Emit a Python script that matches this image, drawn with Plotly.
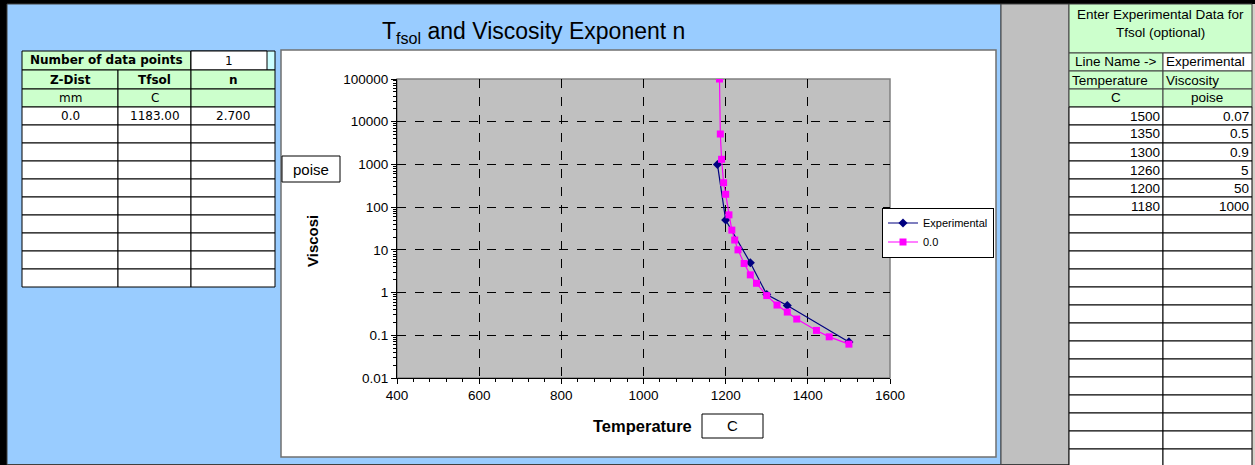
import plotly.graph_objects as go

W, H = 1255, 465

# experimental data (right hand table)
exp_temp = [1500, 1350, 1300, 1260, 1200, 1180]
exp_visc = [0.07, 0.5, 0.9, 5, 50, 1000]
exp_name = "Experimental"

# computed curve for Z-Dist 0.0
calc_temp = [1185, 1187, 1190, 1195, 1200, 1208, 1215, 1222, 1230, 1245,
             1260, 1275, 1300, 1325, 1350, 1373, 1421, 1452, 1500]
calc_visc = [100000, 5150, 1320, 373, 200, 66, 29, 17, 10, 4.8,
             2.6, 1.65, 0.85, 0.51, 0.35, 0.24, 0.13, 0.092, 0.062]
calc_name = "0.0"

# left table
n_points = "1"
left_head = ["Z-Dist", "Tfsol", "n"]
left_units = ["mm", "C", " "]
left_rows = [["0.0", "1183.00", "2.700"]]

# y ticks
y_tickvals = [0.01, 0.1, 1, 10, 100, 1000, 10000, 100000]
y_ticktext = ["0.01", "0.1", "1", "10", "100", "1000", "10000", "100000"]

GREEN = "#CCFFCC"
BLUE = "#99CCFF"
GREY = "#C0C0C0"
ARIAL = "Liberation Sans"
VERD = "DejaVu Sans"


def fx(x):
    return x / W


def fy(y):
    return 1 - y / H


shapes = []
notes = []


def rect(x0, y0, x1, y1, fill, line="black", lw=1):
    shapes.append(dict(type="rect", xref="paper", yref="paper", layer="below",
                       x0=fx(x0), x1=fx(x1), y0=fy(y1), y1=fy(y0),
                       fillcolor=fill, line=dict(color=line, width=lw)))


def text(x, y, s, size=12, family=ARIAL, xanchor="center", angle=0):
    if not s.strip():
        return
    notes.append(dict(x=fx(x), y=fy(y), xref="paper", yref="paper", text=s,
                      showarrow=False, xanchor=xanchor, yanchor="middle",
                      textangle=angle, font=dict(family=family, size=size, color="black")))


# frame and panels
rect(0, 0, W, 4, "black", lw=0)
rect(0, 0, 7, H, "black", lw=0)
rect(7, 4, 1001, 464.5, BLUE, line="#404040", lw=1)
rect(1001, 4, 1069, 464.5, GREY, line="#404040", lw=1)
rect(1069, 4, 1252, H, "white", lw=0)
rect(281, 50, 996, 457, "white", line="#707070", lw=1.5)

text(533, 33, "T<sub>fsol</sub> and Viscosity Exponent n", size=23)

# left table
cols = [22, 118, 191, 275]
rect(22, 51, 191, 70, GREEN)
text(106, 60, "<b>Number of data points</b>", size=12, family=VERD)
rect(191, 51, 275, 70, "#CCFFFF")
rect(191, 51, 267, 70, "white")
text(229, 61, n_points, size=12, family=VERD)
for r in range(12):
    y0 = 70 if r == 0 else 71 + 18 * r
    y1 = 71 + 18 * (r + 1)
    for c in range(3):
        fill = GREEN if r < 2 else "white"
        rect(cols[c], y0, cols[c + 1], y1, fill)
        cx = (cols[c] + cols[c + 1]) / 2
        cy = (y0 + y1) / 2 + 0.5
        if r == 0:
            text(cx, cy, "<b>" + left_head[c] + "</b>", size=12, family=VERD)
        elif r == 1:
            text(cx, cy, left_units[c], size=12, family=VERD)
        elif r - 2 < len(left_rows):
            text(cx, cy, left_rows[r - 2][c], size=12, family=VERD)

# right table
rx = [1069, 1163, 1252]
RF = 13.5
rect(1069, 4, 1252, 53, GREEN, line="#404040")
text(1160, 15, "Enter Experimental Data for", size=RF)
text(1160, 33, "Tfsol (optional)", size=RF)
rect(1069, 53, 1163, 71, GREEN, line="#404040")
rect(1163, 53, 1252, 71, "white", line="#404040")
text(1116, 62, "Line Name ->", size=RF)
text(1164, 62, exp_name, size=RF, xanchor="left")
rect(1069, 71, 1163, 89, GREEN, line="#404040")
rect(1163, 71, 1252, 89, GREEN, line="#404040")
text(1070, 80, "Temperature", size=RF, xanchor="left")
text(1164, 80, "Viscosity", size=RF, xanchor="left")
rect(1069, 89, 1163, 107, GREEN, line="#404040")
rect(1163, 89, 1252, 107, GREEN, line="#404040")
text(1116, 98, "C", size=RF)
text(1207, 98, "poise", size=RF)
for r in range(20):
    y0 = 107 + 18 * r
    rect(rx[0], y0, rx[1], y0 + 18, "white")
    rect(rx[1], y0, rx[2], y0 + 18, "white")
    if r < len(exp_temp):
        text(rx[1] - 1, y0 + 9, str(exp_temp[r]), size=RF, xanchor="right")
        text(rx[2] - 1, y0 + 9, str(exp_visc[r]), size=RF, xanchor="right")

# axis title boxes
rect(282, 156, 340, 182, "white")
text(311, 169, "poise", size=15)
text(312, 241, "<b>Viscosi</b>", size=15, angle=-90)
text(642, 426, "<b>Temperature</b>", size=16.5)
rect(702, 414, 763, 438, "white")
text(732, 425, "C", size=15)

# plot area outline
rect(397, 79, 890, 378, GREY, line="#808080", lw=1.5)

fig = go.Figure()
fig.add_trace(go.Scatter(
    x=exp_temp, y=exp_visc, name=exp_name, mode="lines+markers",
    line=dict(color="#000080", width=1.2),
    marker=dict(symbol="diamond", size=7, color="#000080"),
))
fig.add_trace(go.Scatter(
    x=calc_temp, y=calc_visc, name=calc_name, mode="lines+markers",
    line=dict(color="#FF00FF", width=1.2),
    marker=dict(symbol="square", size=7, color="#FF00FF"),
))

fig.update_layout(
    width=W, height=H, autosize=False,
    margin=dict(l=0, r=0, t=0, b=0, pad=0, autoexpand=False),
    paper_bgcolor="#D4D0C8",
    plot_bgcolor=GREY,
    shapes=shapes,
    annotations=notes,
    font=dict(family=ARIAL, size=12, color="black"),
    legend=dict(x=fx(882), y=fy(207.5), xanchor="left", yanchor="top",
                bgcolor="white", bordercolor="black", borderwidth=1,
                font=dict(family=ARIAL, size=11), tracegroupgap=0,
                itemwidth=30),
    xaxis=dict(
        domain=[fx(397), fx(890)], range=[400, 1600], dtick=200,
        showgrid=True, gridcolor="black", griddash="dash", gridwidth=1,
        showline=True, linecolor="black", linewidth=1,
        ticks="outside", ticklen=5, tickcolor="black", automargin=False,
        minor=dict(dtick=40, ticks="outside", ticklen=3, tickcolor="black", showgrid=False),
        zeroline=False, tickfont=dict(family=ARIAL, size=13.5),
    ),
    yaxis=dict(
        domain=[fy(378), fy(79)], type="log", range=[-2, 5],
        tickvals=y_tickvals, ticktext=y_ticktext,
        showgrid=True, gridcolor="black", griddash="dash", gridwidth=1,
        showline=True, linecolor="black", linewidth=1,
        ticks="outside", ticklen=5, tickcolor="black", automargin=False,
        minor=dict(dtick="D1", ticks="outside", ticklen=3, tickcolor="black", showgrid=False),
        zeroline=False, tickfont=dict(family=ARIAL, size=13.5),
    ),
)

fig.write_html("out.html", config={"displayModeBar": False},
               post_script="document.body.style.margin='0';")
